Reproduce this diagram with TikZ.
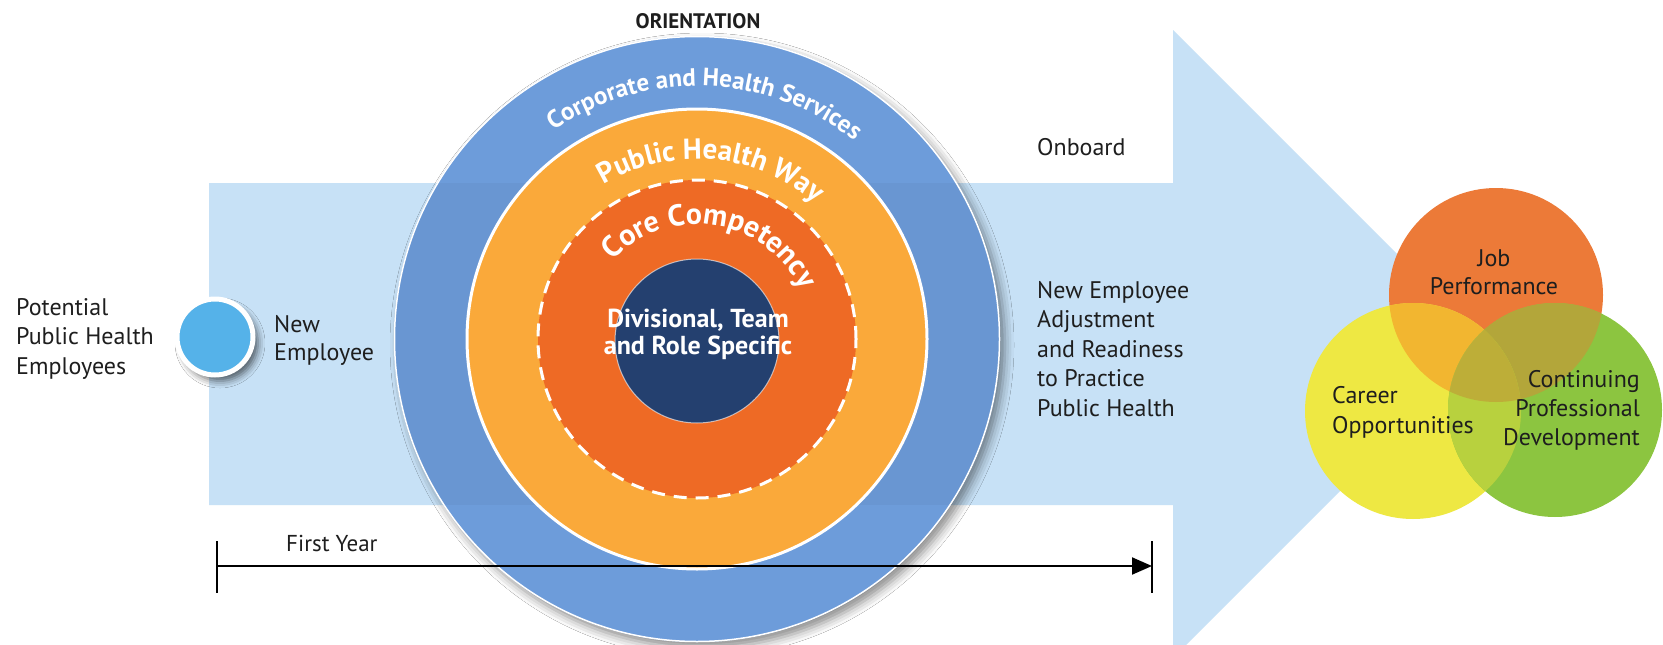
\documentclass[tikz,border=0pt]{standalone}
\usepackage{fontspec}
\setmainfont{PT Sans}
\usetikzlibrary{arrows.meta,decorations.text,shadows.blur}

\definecolor{bandblue}{HTML}{C7E1F6}
\definecolor{ringblue}{HTML}{6D9CDA}
\definecolor{ringgold}{HTML}{FAA93A}
\definecolor{ringorange}{HTML}{EE6A25}
\definecolor{corenavy}{HTML}{24406F}
\definecolor{dotblue}{HTML}{55B2E9}
\definecolor{inkdark}{HTML}{1E1E1E}
\definecolor{vennorange}{HTML}{EC7A38}
\definecolor{vennyellow}{HTML}{EEE843}
\definecolor{venngreen}{HTML}{8CC540}
\definecolor{mixoy}{HTML}{F2B630}
\definecolor{mixog}{HTML}{B3A63A}
\definecolor{mixyg}{HTML}{B8D13E}
\definecolor{mixall}{HTML}{BDAE38}

% text set on a circular arc around the rings' centre (697,-339)
\newcommand\arclabel[6]{%
  \path[decorate, decoration={text along path, text align=center,
      text={|\color{#1}\bfseries\fontsize{#2}{#2}\selectfont|#6}}]
    ([shift={(#4:#3)}]697,-339) arc[start angle=#4, end angle=#5, radius=#3];}
\newcommand\txtlines[2]{\begin{tabular}[t]{@{}#1@{}}#2\end{tabular}}

\begin{document}
\begin{tikzpicture}[x=1pt, y=1pt,
  txt/.style={inner sep=0pt, text=inkdark, font=\fontsize{24}{29.5}\selectfont},
  whitebold/.style={inner sep=0pt, text=white, font=\bfseries\fontsize{26}{27}\selectfont}]

\useasboundingbox (0,0) rectangle (1663,-645);
\fill[white] (0,0) rectangle (1663,-645);

% big light-blue arrow
\fill[bandblue] (209,-183) -- (1173,-183) -- (1173,-30) -- (1487,-344)
  -- (1173,-658) -- (1173,-505) -- (209,-505) -- cycle;

% concentric rings
\coordinate (C) at (697,-339);
\fill[ringblue, blur shadow={shadow xshift=5pt, shadow yshift=-6pt,
  shadow blur radius=9pt, shadow opacity=45}] (C) circle[radius=303];
\begin{scope}
  \clip (C) circle[radius=303];
  \fill[black, opacity=0.035] (209,-183) rectangle (1173,-505);
\end{scope}
\draw[white, line width=1.5pt] (C) circle[radius=302.5];
\fill[ringgold] (C) circle[radius=230];
\draw[white, line width=3pt] (C) circle[radius=230];
\fill[ringorange] (C) circle[radius=159];
\draw[white, line width=3pt, dash pattern=on 13pt off 9pt] (C) circle[radius=159];
\fill[corenavy] (697,-341) circle[radius=82];
\draw[white, opacity=0.6, line width=1pt] (697,-341) circle[radius=82];

% arc labels
\arclabel{white}{25}{253}{158}{18}{Corporate and Health Services}
\arclabel{white}{29}{180}{150}{20}{Public Health Way}
\arclabel{white}{30}{115}{155}{7}{Core Competency}

\node[whitebold, anchor=base] (core) at (698,-327)
  {\txtlines{c}{Divisional, Team\\and Role Specific}};

\node[txt, anchor=base, font=\bfseries\fontsize{21}{21}\selectfont] (orient)
  at (698,-28) {ORIENTATION};

% new employee dot
\node[circle, fill=dotblue, draw=white, line width=5pt, minimum size=76pt,
  inner sep=0pt, blur shadow={shadow xshift=5pt, shadow yshift=-6pt,
  shadow blur radius=7pt, shadow opacity=60}] (dot) at (215,-337) {};

% side labels
\node[txt, anchor=base west] (potential) at (16,-315)
  {\txtlines{l}{Potential\\Public Health\\Employees}};
\node[txt, anchor=base west, font=\fontsize{24}{28}\selectfont] (newemp)
  at (274,-332) {\txtlines{l}{New\\Employee}};
\node[txt, anchor=base west] (onboard) at (1037,-155) {Onboard};
\node[txt, anchor=base west, font=\fontsize{24}{29.5}\selectfont] (adjust)
  at (1037,-298)
  {\txtlines{l}{New Employee\\Adjustment\\and Readiness\\to Practice\\Public Health}};

% first-year span
\coordinate (ys) at (217,-566);
\coordinate (ye) at (1152,-566);
\draw[black, line width=1.6pt] (217,-541) -- (217,-593);
\draw[black, line width=1.6pt] (1152,-541) -- (1152,-593);
\draw[black, line width=2pt, -{Triangle[length=20pt, width=17pt]}] (ys) -- (ye);
\node[txt, anchor=base west, font=\fontsize{23}{28}\selectfont] (firstyear)
  at (286,-551) {First Year};

% outcome circles
\coordinate (vj) at (1496,-295);
\coordinate (vc) at (1413,-411);
\coordinate (vp) at (1555,-410);
\fill[vennorange] (vj) circle[radius=107];
\fill[vennyellow] (vc) circle[radius=108];
\fill[venngreen] (vp) circle[radius=107];
\begin{scope}
  \clip (vj) circle[radius=107];
  \fill[mixoy] (vc) circle[radius=108];
  \fill[mixog] (vp) circle[radius=107];
\end{scope}
\begin{scope}
  \clip (vc) circle[radius=108];
  \fill[mixyg] (vp) circle[radius=107];
\end{scope}
\begin{scope}
  \clip (vj) circle[radius=107];
  \clip (vc) circle[radius=108];
  \fill[mixall] (vp) circle[radius=107];
\end{scope}

\node[txt, anchor=base, font=\fontsize{24}{28}\selectfont] (job)
  at (1494,-266) {\txtlines{c}{Job\\Performance}};
\node[txt, anchor=base west, font=\fontsize{24}{30}\selectfont] (career)
  at (1332,-403) {\txtlines{l}{Career\\Opportunities}};
\node[txt, anchor=base east, font=\fontsize{24}{29}\selectfont] (cpd)
  at (1640,-387) {\txtlines{r}{Continuing\\Professional\\Development}};
\end{tikzpicture}
\end{document}
